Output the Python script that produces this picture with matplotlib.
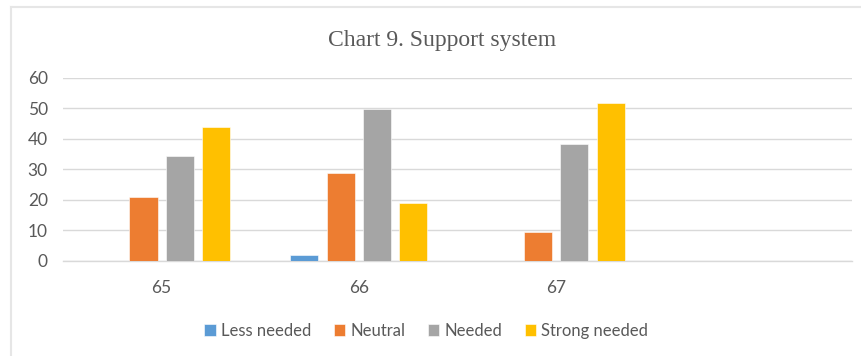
import matplotlib.pyplot as plt
import numpy as np
from matplotlib.lines import Line2D

categories = ['65', '66', '67', '']
series_names = ['Less needed', 'Neutral', 'Needed', 'Strong needed']
less_needed = [0, 1.8, 0, 0]
neutral = [21.1, 28.7, 9.4, 0]
needed = [34.4, 49.8, 38.3, 0]
strong_needed = [44.0, 18.9, 51.7, 0]
colors = ['#5B9BD5', '#ED7D31', '#A5A5A5', '#FFC000']

values = [less_needed, neutral, needed, strong_needed]

fig = plt.figure(figsize=(8.61, 3.56), dpi=100)
ax = fig.add_axes([0.0732, 0.2669, 0.9163, 0.514])

x = np.arange(len(categories))
step = 0.184
width = 0.142
for i, (name, vals, c) in enumerate(zip(series_names, values, colors)):
    ax.bar(x + (i - 1.5) * step, vals, width, color=c, label=name,
           edgecolor='white', linewidth=0.4, zorder=3)

ax.set_xlim(-0.5, len(categories) - 0.5)
ax.set_ylim(0, 60)
ax.set_yticks(range(0, 61, 10))
ax.set_xticks(x)
ax.set_xticklabels(categories)
ax.grid(axis='y', color='#d9d9d9', linewidth=1.0, zorder=0)
for side in ['top', 'right', 'left']:
    ax.spines[side].set_visible(False)
ax.spines['bottom'].set_color('#d9d9d9')
ax.spines['bottom'].set_linewidth(1.0)
ax.tick_params(axis='both', length=0, labelsize=12.5, labelcolor='#595959')
ax.tick_params(axis='x', pad=14)
ax.tick_params(axis='y', pad=11)
for lbl in ax.get_xticklabels() + ax.get_yticklabels():
    lbl.set_family('Lato')

fig.text(0.514, 0.885, 'Chart 9. Support system', ha='center', va='center',
         fontsize=17, family='Liberation Serif', color='#595959')

leg = fig.legend(loc='center', bbox_to_anchor=(0.495, 0.07), ncol=4, frameon=False,
                 handlelength=0.7, handleheight=0.7, handletextpad=0.3,
                 columnspacing=1.35, prop={'family': 'Lato', 'size': 12})
for t in leg.get_texts():
    t.set_color('#595959')

# chart frame: left and top edges
fig.add_artist(Line2D([0.0122, 0.0122], [0, 0.98], transform=fig.transFigure,
                      color='#e6e6e6', linewidth=1.5))
fig.add_artist(Line2D([0.0122, 1.0], [0.98, 0.98], transform=fig.transFigure,
                      color='#e6e6e6', linewidth=1.5))

fig.savefig('out.png', dpi=100, facecolor='white')
